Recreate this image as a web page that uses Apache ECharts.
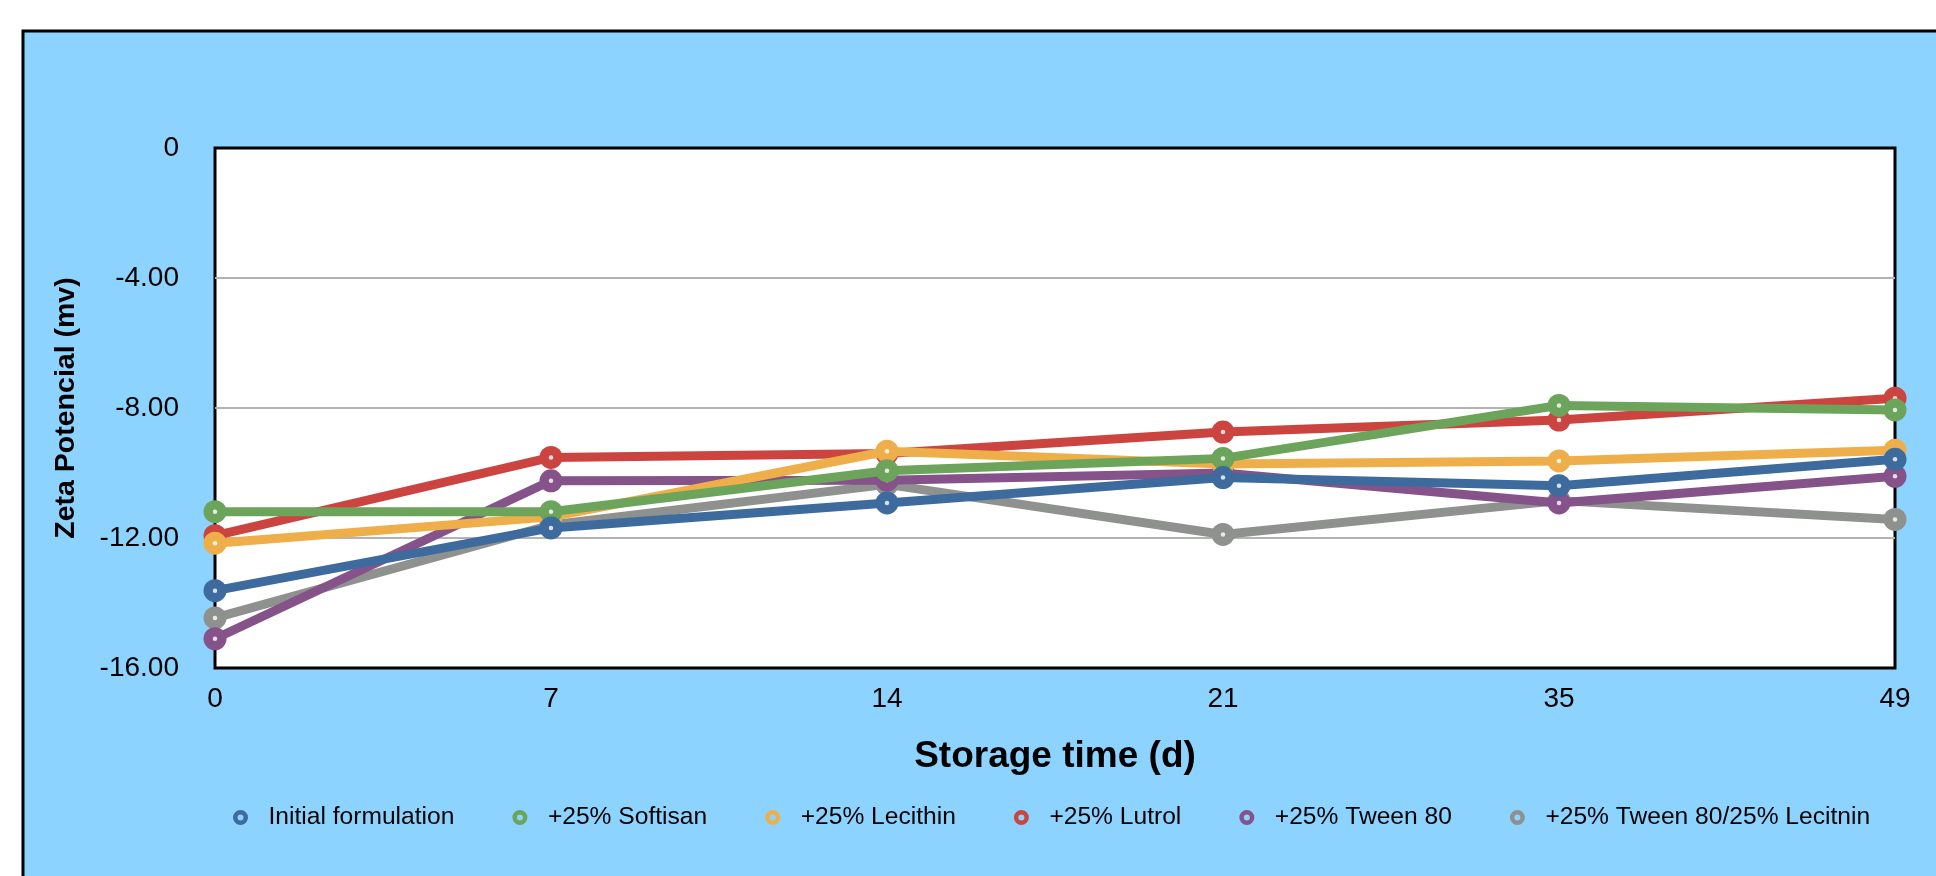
<!DOCTYPE html>
<html>
<head>
<meta charset="utf-8">
<script src="https://cdn.jsdelivr.net/npm/echarts@6/dist/echarts.min.js"></script>
<style>
  html, body { margin: 0; padding: 0; background: #ffffff; }
  #chart { width: 1936px; height: 876px; }
</style>
</head>
<body>
<div id="chart"></div>
<script>
const categories = ['0', '7', '14', '21', '35', '49'];
const yTicks = [0, -4, -8, -12, -16];

const seriesNames = [
  'Initial formulation',
  '+25% Softisan',
  '+25% Lecithin',
  '+25% Lutrol',
  '+25% Tween 80',
  '+25% Tween 80/25% Lecitnin'
];
const initialFormulation = [-13.62, -11.69, -10.92, -10.14, -10.39, -9.58];
const softisan = [-11.19, -11.19, -9.93, -9.55, -7.92, -8.06];
const lecithin = [-12.16, -11.35, -9.33, -9.72, -9.63, -9.30];
const lutrol = [-11.93, -9.52, -9.40, -8.74, -8.37, -7.70];
const tween80 = [-15.10, -10.24, -10.22, -10.00, -10.92, -10.10];
const tweenLecitnin = [-14.46, -11.60, -10.35, -11.89, -10.85, -11.43];

const seriesValues = [initialFormulation, softisan, lecithin, lutrol, tween80, tweenLecitnin];
const colors = ['#3D6B9D', '#6BA45A', '#EEAF4B', '#CB4440', '#85528A', '#8F918F'];

const FONT = '"Liberation Sans", Arial, Helvetica, sans-serif';
const ringIcon = 'path://M0,-7.5A7.5,7.5,0,1,1,0,7.5A7.5,7.5,0,1,1,0,-7.5ZM0,-3A3,3,0,1,0,0,3A3,3,0,1,0,0,-3Z';

const chart = echarts.init(document.getElementById('chart'), null, { renderer: 'canvas' });

const series = [];
seriesNames.forEach((name, i) => {
  series.push({
    name: name,
    type: 'line',
    data: seriesValues[i],
    z: 20 - 2 * i,
    symbol: 'circle',
    symbolSize: 23,
    color: colors[i],
    lineStyle: { width: 9, color: colors[i] },
    itemStyle: { color: colors[i] },
    emphasis: { disabled: true },
    animation: false
  });
  // white centre dot of each marker, drawn from the same values
  series.push({
    name: 'dot-' + i,
    type: 'scatter',
    data: seriesValues[i],
    z: 21 - 2 * i,
    symbol: 'circle',
    symbolSize: 4.5,
    itemStyle: { color: '#ffffff' },
    silent: true,
    emphasis: { disabled: true },
    animation: false
  });
});

chart.setOption({
  backgroundColor: '#ffffff',
  animation: false,
  graphic: [{
    type: 'rect',
    silent: true,
    z: -1,
    shape: { x: 23, y: 31, width: 1960, height: 900 },
    style: { fill: '#8CD3FF', stroke: '#000000', lineWidth: 3 }
  }],
  grid: {
    left: 215, top: 148, width: 1680, height: 520,
    show: true,
    backgroundColor: '#ffffff',
    borderColor: '#000000',
    borderWidth: 3,
    containLabel: false
  },
  legend: {
    data: seriesNames,
    left: 228,
    top: 800,
    icon: ringIcon,
    itemWidth: 46,
    itemHeight: 15,
    itemGap: 58,
    itemStyle: { borderWidth: 0 },
    textStyle: { fontFamily: FONT, fontSize: 24.6, color: '#000000' }
  },
  xAxis: {
    type: 'category',
    data: categories,
    boundaryGap: false,
    axisLine: { show: false },
    axisTick: { show: false },
    splitLine: { show: false },
    axisLabel: { fontFamily: FONT, fontSize: 28, color: '#000000', margin: 17 },
    name: 'Storage time (d)',
    nameLocation: 'middle',
    nameGap: 70,
    nameTextStyle: { fontFamily: FONT, fontSize: 37, fontWeight: 'bold', color: '#000000' }
  },
  yAxis: {
    type: 'value',
    min: yTicks[yTicks.length - 1],
    max: yTicks[0],
    interval: 4,
    axisLine: { show: false },
    axisTick: { show: false },
    splitLine: { show: true, showMinLine: false, showMaxLine: false, lineStyle: { color: '#B3B3B3', width: 2 } },
    axisLabel: {
      fontFamily: FONT, fontSize: 28, color: '#000000', margin: 36,
      formatter: v => (v === 0 ? '0' : v.toFixed(2))
    },
    name: 'Zeta Potencial (mv)',
    nameLocation: 'middle',
    nameGap: 134,
    nameRotate: 90,
    nameTextStyle: { fontFamily: FONT, fontSize: 28.5, fontWeight: 'bold', color: '#000000' }
  },
  series: series
});
</script>
</body>
</html>
